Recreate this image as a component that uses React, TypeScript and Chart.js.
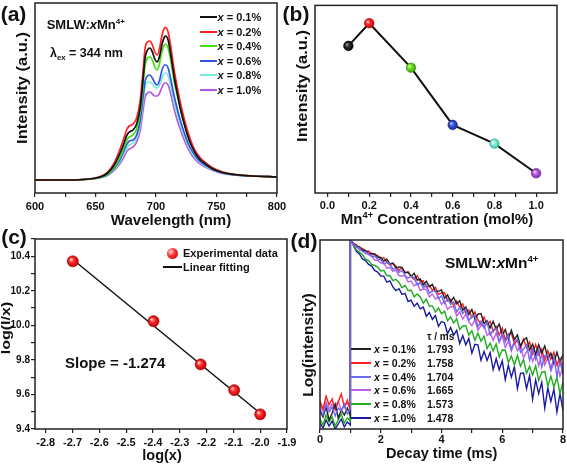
import React, { useEffect, useRef } from 'react';
import { Chart, registerables } from 'chart.js';

Chart.register(...registerables);

const FONT = "'Liberation Sans', Arial, Helvetica, sans-serif";

// ---------------- (a) emission spectra ----------------
const wavelengths = [600, 620, 640, 650, 655, 660, 665, 670, 673, 676, 678, 681, 684, 687, 689, 691, 693, 695, 697, 699, 701, 703, 705, 707, 708, 710, 712, 715, 718, 720, 724, 728, 732, 736, 740, 747, 755, 765, 780, 800];
const dopings = ['0.1%', '0.2%', '0.4%', '0.6%', '0.8%', '1.0%'];
const specX01 = [0, 0, 0.5, 2, 3.5, 7, 14, 26, 35, 45, 48, 50, 56, 73, 97, 122, 130, 132, 128, 121, 118, 124, 136, 143, 144, 140, 127, 103, 84, 72, 53, 38, 28, 21, 17, 11, 7.5, 5.5, 4, 3];
const specX02 = [0, 0, 0.5, 2, 4, 8, 16, 30, 40, 51, 54, 56, 62, 80, 105, 132, 138, 139, 135, 128, 125, 132, 145, 152, 152.5, 148, 135, 110, 90, 78, 58, 42, 30, 23, 18, 12, 8, 5.5, 4, 3];
const specX04 = [0, 0, 0.5, 1.5, 3, 6, 12, 22, 31, 40, 43, 45, 51, 68, 91, 115, 122, 123, 120, 113, 110, 117, 129, 135, 136, 132, 121, 99, 82, 72, 54, 40, 29, 22, 18, 12, 8, 5.5, 4, 3];
const specX06 = [0, 0, 0.5, 1.5, 3, 5.5, 11, 20, 28, 36, 39, 40, 45, 60, 80, 99, 104, 105, 102, 97, 95, 100, 110, 115, 115, 112, 102, 84, 69, 60, 45, 33, 25, 19, 15.5, 10.5, 7, 5, 4, 3];
const specX08 = [0, 0, 0.5, 1.5, 2.5, 5, 10, 18, 25, 32, 35, 37, 42, 56, 75, 93, 98, 98, 96, 93, 92, 95, 102, 107, 107, 104, 95, 78, 64, 56, 42, 31, 23, 18, 14.5, 10, 7, 5, 4, 3];
const specX10 = [0, 0, 0.5, 1.5, 2.5, 4.5, 9, 16, 22, 29, 31, 33, 38, 50, 67, 83, 87, 88, 86, 84, 84, 87, 93, 97, 97, 95, 87, 71, 58, 51, 38, 28, 21, 16.5, 13.5, 9.5, 6.5, 5, 4, 3];
const aTickValues = [600, 625, 650, 675, 700, 725, 750, 775, 800];
const aTickLabels = ['600', '', '650', '', '700', '', '750', '', '800'];
const aColors = ['#111111', '#ff2222', '#44dd11', '#3355dd', '#77eedd', '#bb55dd'];

// ---------------- (b) integrated intensity ----------------
const concentrations = [0.1, 0.2, 0.4, 0.6, 0.8, 1.0];
const integratedIntensity = [78.4, 90.5, 66.8, 36.3, 26.3, 10.5];
const bTickValues = [0, 0.1, 0.2, 0.3, 0.4, 0.5, 0.6, 0.7, 0.8, 0.9, 1.0];
const bTickLabels = ['0.0', '', '0.2', '', '0.4', '', '0.6', '', '0.8', '', '1.0'];
const bSphere = [
  ['#a0a0a0', '#333333', '#000000'],
  ['#ffd6d6', '#ff3030', '#c00000'],
  ['#e6ffcc', '#77e030', '#3a9a00'],
  ['#ccd4ff', '#3a5ad8', '#1a2a90'],
  ['#f4fffc', '#90f0dc', '#40b8a0'],
  ['#f6dcff', '#c060e8', '#7a2aa0'],
];

// ---------------- (c) log(I/x) vs log(x) ----------------
const logX = [-2.699, -2.398, -2.222, -2.097, -2.0];
const logIx = [10.371, 10.024, 9.774, 9.625, 9.485];
const fitX = [-2.7, -2.0];
const fitY = [10.383, 9.491];
const cXTickValues = [-2.8, -2.7, -2.6, -2.5, -2.4, -2.3, -2.2, -2.1, -2.0, -1.9];
const cXTickLabels = ['-2.8', '-2.7', '-2.6', '-2.5', '-2.4', '-2.3', '-2.2', '-2.1', '-2.0', '-1.9'];
const cYTickValues = [9.4, 9.5, 9.6, 9.7, 9.8, 9.9, 10.0, 10.1, 10.2, 10.3, 10.4, 10.5];
const cYTickLabels = ['9.4', '', '9.6', '', '9.8', '', '10.0', '', '10.2', '', '10.4', ''];

// ---------------- (d) decay curves ----------------
const preTimes = [0, 0.1, 0.2, 0.3, 0.4, 0.5, 0.6, 0.7, 0.8, 0.9, 1.0];
const decayTimes = [
  1.0, 1.1, 1.2, 1.3, 1.4, 1.5, 1.6, 1.7, 1.8, 1.9, 2.0, 2.1, 2.2, 2.3, 2.4, 2.5, 2.6, 2.7, 2.8, 2.9,
  3.0, 3.1, 3.2, 3.3, 3.4, 3.5, 3.6, 3.7, 3.8, 3.9, 4.0, 4.1, 4.2, 4.3, 4.4, 4.5, 4.6, 4.7, 4.8, 4.9,
  5.0, 5.1, 5.2, 5.3, 5.4, 5.5, 5.6, 5.7, 5.8, 5.9, 6.0, 6.1, 6.2, 6.3, 6.4, 6.5, 6.6, 6.7, 6.8, 6.9,
  7.0, 7.1, 7.2, 7.3, 7.4, 7.5, 7.6, 7.7, 7.8, 7.9, 8.0,
];
const lifetimes = ['1.793', '1.758', '1.704', '1.665', '1.573', '1.478'];
const preX01 = [18, 12, 22, 9, 16, 25, 11, 19, 14, 21, 13];
const preX02 = [28, 20, 33, 24, 30, 19, 27, 35, 22, 29, 18];
const preX04 = [20, 14, 24, 17, 22, 13, 21, 18, 25, 15, 20];
const preX06 = [24, 18, 27, 20, 25, 22, 28, 19, 23, 26, 21];
const preX08 = [10, 4, 14, 7, 12, 3, 9, 15, 6, 11, 8];
const preX10 = [6, 1, 9, 3, 8, 0, 5, 10, 2, 7, 4];
const decayX01 = [
  189, 186, 182.5, 182, 179, 178.5, 175.5, 175.5, 175, 172, 171.5, 167.9, 169.7, 165.1, 165.9, 160.8, 162.1, 161.5, 156.3, 156.7,
  152.5, 155.7, 148.8, 150, 144.1, 147.8, 142.4, 144.6, 137.2, 137.9, 139, 130.6, 134.1, 127.2, 131.7, 125.3, 128.3, 118.9, 121.9, 114.5,
  119.5, 110.2, 114.8, 115.5, 105.6, 108.3, 100.9, 107.6, 99.7, 104.9, 94, 99.4, 89.8, 98.7, 89.6, 94, 82.9, 88.8, 91.2, 79.1,
  85, 74.7, 84.3, 76, 83.1, 70.3, 75.9, 66.1, 76.7, 66.9, 74.5,
];
const decayX02 = [
  189, 185.5, 184.5, 181, 180.5, 177.5, 178, 175, 174.5, 173.5, 170, 171.3, 166.6, 163.9, 165.7, 163, 158.8, 161.1, 156.4, 157.2,
  152.5, 149.6, 153.2, 147.3, 148.4, 141.5, 143.6, 138.7, 141.8, 134.4, 136, 136.5, 128, 130, 123, 128, 121.5, 125, 116, 119,
  111.5, 117.1, 109.2, 104.8, 111.9, 104.5, 107.6, 97.2, 102.3, 93.9, 101, 89.4, 94.8, 96.2, 85.1, 89, 80.9, 89.8, 81.2, 87.1,
  75, 84.6, 74.2, 79.8, 68.4, 78.5, 69.6, 76.7, 63.8, 70.4, 60,
];
const decayX04 = [
  189, 185.5, 182, 181, 177.5, 177, 175.5, 172.5, 173, 170, 169.5, 165.2, 166.4, 165.1, 159.8, 160.5, 156.7, 158.4, 153.6, 150.8,
  152.5, 151.6, 144.1, 146.2, 141.2, 144.3, 135.8, 137.9, 137.9, 130.5, 133, 125.5, 130.5, 124.5, 127, 117, 121.5, 115.5, 119.5, 108.5,
  112.5, 113.6, 102.2, 107.8, 100.9, 107, 94.1, 99.2, 100.8, 87.4, 95.5, 86.9, 94.2, 79.6, 87.9, 89.8, 76.6, 80, 84.3, 68.7,
  80, 69.6, 79.2, 61.8, 73.4, 74, 59.6, 72.2, 52.8, 67.4, 55,
];
const decayX06 = [
  189, 184.5, 182.5, 179, 179, 175.5, 174.5, 173, 169, 168.5, 166, 166.1, 160.6, 161.7, 157.7, 158.8, 153.3, 153.4, 152.9, 147,
  148, 143, 146, 138.5, 140, 139.5, 132, 135, 130, 132, 124.5, 128, 119.5, 122.5, 122, 113, 117, 110, 115, 107,
  103.5, 109.1, 98.7, 103.3, 103.9, 93.5, 96.6, 88.7, 95.8, 86.9, 93, 81.5, 87.9, 77.9, 86.8, 78.3, 83.7, 71.2, 77.6, 79.6,
  67.5, 75.1, 63.2, 74.3, 63.9, 71, 58.1, 65.7, 67.3, 52.9, 62.5,
];
const decayX08 = [
  189, 184.5, 179, 177, 174, 170, 168.5, 164.5, 163.5, 162, 158, 158.8, 153.2, 153.5, 148.3, 149.7, 146.5, 141.3, 143.6, 138.5,
  138.8, 132.2, 135.1, 132, 125.9, 129.8, 122.7, 123.1, 117, 120.9, 115.3, 117.8, 108.2, 112.2, 106.1, 110.1, 99.5, 103, 103.4, 93.9,
  98.3, 88.8, 95.8, 87.9, 92.9, 80.4, 85.9, 77.9, 85, 72, 79, 78.8, 66.6, 72.9, 64.2, 73.5, 62.7, 69.5, 55.8, 62.6,
  53.9, 63.2, 48.5, 56.8, 57.6, 42.9, 52.7, 42, 51.8, 35.6, 46.9,
];
const decayX10 = [
  189, 183.5, 177.5, 175, 170, 168.5, 164.5, 163, 158.5, 157, 153, 152.9, 146.8, 148.2, 142.1, 138.5, 140.3, 134.7, 135.6, 127.5,
  128.9, 122.7, 125.9, 120.2, 121.9, 112.7, 116.5, 109.7, 113.5, 102.7, 107.5, 106.3, 95.2, 101.5, 93.9, 98.7, 85.5, 93.4, 84.2, 90.6,
  75.9, 84.8, 84.2, 68.7, 77.6, 68.5, 76.4, 59.3, 70.3, 59.2, 68.1, 49.4, 63.6, 51.9, 62.2, 40.5, 55.7, 56, 40.3, 53.5,
  29.8, 49.1, 35.4, 46.6, 20.9, 41.2, 27.5, 39.8, 17, 35.3, 18.6,
];
const dTickValues = [0, 1, 2, 3, 4, 5, 6, 7, 8];
const dTickLabels = ['0', '', '2', '', '4', '', '6', '', '8'];
const dColors = ['#222222', '#ff2020', '#6a6af0', '#c060e8', '#22aa22', '#1a1aa0'];

// ---------------- helpers ----------------
const pts = (xs: number[], ys: number[]) => xs.map((x, i) => ({ x, y: ys[i] }));

const framePlugin = {
  id: 'frame',
  afterDraw(chart: any) {
    const { ctx, chartArea: a } = chart;
    ctx.save();
    ctx.strokeStyle = '#222';
    ctx.lineWidth = 1.5;
    ctx.strokeRect(a.left, a.top, a.right - a.left, a.bottom - a.top);
    ctx.restore();
  },
};

const tickFont = (size: number) => ({ family: FONT, weight: 'bold' as const, size });

function tickedAxis(min: number, max: number, values: number[], labels: string[], size: number, fitSize: number, horizontal: boolean, pad: number) {
  return {
    type: 'linear',
    min,
    max,
    afterBuildTicks: (s: any) => {
      s.ticks = values.map((v) => ({ value: v }));
    },
    afterFit: (s: any) => {
      if (horizontal) s.height = fitSize;
      else s.width = fitSize;
    },
    ticks: {
      callback: (_v: any, i: number) => labels[i],
      font: tickFont(size),
      color: '#111',
      padding: pad,
      maxRotation: 0,
      autoSkip: false,
    },
    grid: { drawOnChartArea: false, drawTicks: true, tickLength: 4, color: '#222', lineWidth: 1.2 },
    border: { display: false },
  };
}

function hiddenAxis(min: number, max: number, width: number) {
  return {
    type: 'linear',
    min,
    max,
    ticks: { display: false },
    grid: { display: false },
    border: { display: false },
    afterFit: (s: any) => {
      s.width = width;
    },
  };
}

function sphereFill(colors: string[][], r: number) {
  return (ctx: any) => {
    const c = colors[(ctx.dataIndex || 0) % colors.length];
    const p = ctx.parsed;
    const chart = ctx.chart;
    if (!p || !chart || !chart.scales || !chart.scales.x) return c[1];
    const x = chart.scales.x.getPixelForValue(p.x);
    const y = chart.scales.y.getPixelForValue(p.y);
    if (!isFinite(x) || !isFinite(y)) return c[1];
    const g = chart.ctx.createRadialGradient(x - r * 0.35, y - r * 0.35, 0.2, x, y, r);
    g.addColorStop(0, c[0]);
    g.addColorStop(0.4, c[1]);
    g.addColorStop(1, c[2]);
    return g;
  };
}

const baseOptions = {
  responsive: false,
  animation: false,
  events: [],
  plugins: { legend: { display: false }, tooltip: { enabled: false } },
};

// ---------------- chart configs ----------------
const configA = () => ({
  type: 'line',
  data: {
    datasets: [specX01, specX02, specX04, specX06, specX08, specX10].map((s, i) => ({
      data: pts(wavelengths, s),
      borderColor: aColors[i],
      borderWidth: 1.7,
      pointRadius: 0,
      cubicInterpolationMode: 'monotone',
      fill: false,
    })),
  },
  options: {
    ...baseOptions,
    layout: { padding: { top: 3, right: 13, left: 0, bottom: 0 } },
    scales: {
      x: tickedAxis(600, 800, aTickValues, aTickLabels, 11, 39, true, 3),
      y: hiddenAxis(-13, 177, 35),
    },
  },
  plugins: [framePlugin],
});

const configB = () => ({
  type: 'line',
  data: {
    datasets: [
      {
        data: pts(concentrations, integratedIntensity),
        borderColor: '#111',
        borderWidth: 2,
        pointRadius: 4.8,
        pointBackgroundColor: sphereFill(bSphere, 4.8),
        pointBorderColor: bSphere.map((c) => c[2]),
        pointBorderWidth: 0.6,
        fill: false,
      },
    ],
  },
  options: {
    ...baseOptions,
    layout: { padding: { top: 3, right: 10, left: 0, bottom: 0 } },
    scales: {
      x: tickedAxis(-0.06, 1.1, bTickValues, bTickLabels, 11, 39, true, 2),
      y: hiddenAxis(0, 100, 31),
    },
  },
  plugins: [framePlugin],
});

const cRed = [['#ffe0e0', '#ff3030', '#b80000']];
const configC = () => ({
  type: 'scatter',
  data: {
    datasets: [
      {
        data: pts(logX, logIx),
        showLine: false,
        pointRadius: 5.6,
        pointBackgroundColor: sphereFill(cRed, 5.6),
        pointBorderColor: '#b00000',
        pointBorderWidth: 0.5,
      },
      {
        data: pts(fitX, fitY),
        showLine: true,
        borderColor: '#111',
        borderWidth: 1.5,
        pointRadius: 0,
      },
    ],
  },
  options: {
    ...baseOptions,
    layout: { padding: { top: 7, right: 13, left: 0, bottom: 0 } },
    scales: {
      x: tickedAxis(-2.84, -1.9, cXTickValues, cXTickLabels, 11, 38, true, 3),
      y: tickedAxis(9.4, 10.5, cYTickValues, cYTickLabels, 10, 35, false, 1),
    },
  },
  plugins: [framePlugin],
});

const dPre = [preX01, preX02, preX04, preX06, preX08, preX10];
const dDecay = [decayX01, decayX02, decayX04, decayX06, decayX08, decayX10];
const dDrawOrder = [2, 0, 1, 3, 4, 5];
const configD = () => ({
  type: 'line',
  data: {
    datasets: dDrawOrder.map((k) => ({
      data: [...pts(preTimes, dPre[k]), ...pts(decayTimes, dDecay[k])],
      borderColor: dColors[k],
      borderWidth: 1.4,
      pointRadius: 0,
      tension: 0,
      fill: false,
    })),
  },
  options: {
    ...baseOptions,
    layout: { padding: { top: 8, right: 4, left: 0, bottom: 0 } },
    scales: {
      x: tickedAxis(0, 8, dTickValues, dTickLabels, 11, 38, true, 0),
      y: hiddenAxis(0, 189, 20),
    },
  },
  plugins: [framePlugin],
});

// ---------------- components ----------------
function ChartCanvas({ left, top, width, height, config }: any) {
  const ref = useRef<HTMLCanvasElement>(null);
  useEffect(() => {
    const chart = new Chart(ref.current as HTMLCanvasElement, config() as any);
    return () => chart.destroy();
  }, []);
  return <canvas ref={ref} width={width} height={height} style={{ position: 'absolute', left, top, width, height }} />;
}

function Label({ x, y, size, center, rot, squeeze, children }: any) {
  const t = rot
    ? `translate(-50%,-50%) rotate(-90deg) scaleY(${squeeze || 0.88})`
    : center
    ? 'translate(-50%,-50%)'
    : 'translate(0,-50%)';
  return (
    <div
      style={{
        position: 'absolute',
        left: x,
        top: y,
        fontFamily: FONT,
        fontWeight: 700,
        fontSize: size,
        lineHeight: 1,
        whiteSpace: 'nowrap',
        color: '#111',
        transform: t,
      }}
    >
      {children}
    </div>
  );
}

const Sup = ({ children }: any) => (
  <span style={{ fontSize: '0.62em', position: 'relative', top: '-0.62em' }}>{children}</span>
);
const Sub = ({ children }: any) => (
  <span style={{ fontSize: '0.62em', position: 'relative', top: '0.38em' }}>{children}</span>
);

function Swatch({ x1, x2, y, color, w }: any) {
  return <div style={{ position: 'absolute', left: x1, top: y - w / 2, width: x2 - x1, height: w, background: color }} />;
}

export default function App() {
  const aRowY = (i: number) => 17.3 + i * 14.5;
  const dRowY = (i: number) => 349.3 + i * 13.7;
  return (
    <div style={{ position: 'fixed', left: 0, top: 0, width: 567, height: 467, background: '#fff', overflow: 'hidden' }}>
      <ChartCanvas left={0} top={0} width={290} height={232} config={configA} />
      <ChartCanvas left={284} top={0} width={283} height={232} config={configB} />
      <ChartCanvas left={0} top={232} width={300} height={235} config={configC} />
      <ChartCanvas left={300} top={232} width={267} height={235} config={configD} />

      {/* panel letters */}
      <Label x={13.5} y={12.5} size={21} center>(a)</Label>
      <Label x={296} y={12.5} size={21} center>(b)</Label>
      <Label x={14} y={236} size={21} center>(c)</Label>
      <Label x={304} y={240} size={21} center>(d)</Label>

      {/* (a) */}
      <Label x={46.7} y={25} size={13}>
        SMLW:<i>x</i>Mn<Sup>4+</Sup>
      </Label>
      <Label x={50} y={53} size={12.5}>
        λ<Sub>ex</Sub> = 344 nm
      </Label>
      <Label x={21.7} y={88} size={16.5} rot>Intensity (a.u.)</Label>
      <Label x={171} y={219} size={15} center>Wavelength (nm)</Label>
      {dopings.map((d, i) => (
        <React.Fragment key={'a' + i}>
          <Swatch x1={200} x2={216.5} y={aRowY(i)} color={aColors[i]} w={2} />
          <Label x={217.5} y={aRowY(i)} size={11}>
            <i>x</i> = {d}
          </Label>
        </React.Fragment>
      ))}

      {/* (b) */}
      <Label x={301.7} y={86} size={16.5} rot>Intensity (a.u.)</Label>
      <Label x={437} y={219} size={15} center>
        Mn<Sup>4+</Sup> Concentration (mol%)
      </Label>

      {/* (c) */}
      <Label x={5.5} y={328} size={16} rot squeeze={0.82}>log(I/x)</Label>
      <Label x={162} y={455} size={14.5} center>log(x)</Label>
      <Label x={65} y={361.7} size={15}>Slope = -1.274</Label>
      <div
        style={{
          position: 'absolute',
          left: 172 - 5.5,
          top: 253 - 5.5,
          width: 11,
          height: 11,
          borderRadius: '50%',
          background: 'radial-gradient(circle at 35% 35%, #ffe0e0 0%, #ff3030 40%, #b80000 100%)',
        }}
      />
      <Label x={183} y={253} size={11}>Experimental data</Label>
      <Swatch x1={163} x2={182} y={267} color="#111" w={1.5} />
      <Label x={183} y={267} size={11}>Linear fitting</Label>

      {/* (d) */}
      <Label x={308} y={345} size={15.7} rot>Log(intensity)</Label>
      <Label x={441.7} y={453} size={14.5} center>Decay time (ms)</Label>
      <Label x={445} y={263} size={15.5}>
        SMLW:<i>x</i>Mn<Sup>4+</Sup>
      </Label>
      <Label x={427} y={337} size={10}>τ / ms</Label>
      {dopings.map((d, i) => (
        <React.Fragment key={'d' + i}>
          <Swatch x1={351} x2={371} y={dRowY(i)} color={dColors[i]} w={2} />
          <Label x={374} y={dRowY(i)} size={10.5}>
            <i>x</i> = {d}
          </Label>
          <Label x={427} y={dRowY(i)} size={10.5}>{lifetimes[i]}</Label>
        </React.Fragment>
      ))}
    </div>
  );
}
